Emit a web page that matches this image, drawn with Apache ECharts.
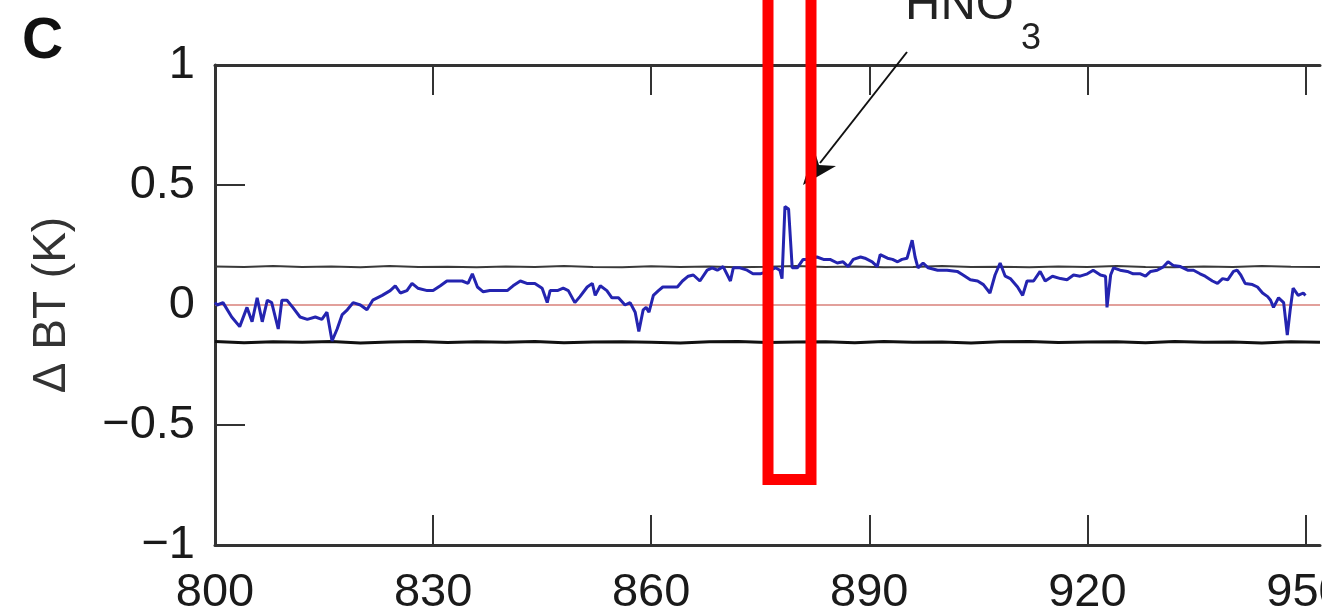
<!DOCTYPE html>
<html>
<head>
<meta charset="utf-8">
<script src="https://cdn.jsdelivr.net/npm/echarts@6/dist/echarts.min.js"></script>
<style>
html,body{margin:0;padding:0;background:#fff;}
#chart{width:1322px;height:616px;}
</style>
</head>
<body>
<div id="chart"></div>
<script>
// ---- data ----
const xTicks = [800, 830, 860, 890, 920, 950];
const yTicks = [-1, -0.5, 0, 0.5, 1];

const wavenumber = [
  800.0, 800.3, 801.1, 802.3, 803.4, 804.4, 805.1, 805.8, 806.5, 807.2,
  807.8, 808.7, 809.2, 809.9, 810.7, 811.7, 812.7, 813.8, 814.7, 815.4,
  816.1, 816.8, 817.5, 818.2, 819.0, 820.0, 820.9, 821.7, 823.0, 824.1,
  824.8, 825.5, 826.4, 827.1, 827.9, 829.2, 830.0, 831.0, 831.9, 832.8,
  834.0, 834.8, 835.4, 836.1, 836.9, 837.8, 839.2, 840.2, 841.0, 842.0,
  842.9, 844.0, 845.0, 845.7, 846.1, 847.1, 847.9, 848.6, 849.5, 850.2,
  851.2, 851.9, 852.3, 853.0, 853.9, 854.6, 855.5, 856.4, 857.1, 857.8,
  858.3, 858.9, 859.3, 859.7, 860.3, 861.0, 861.6, 862.6, 863.6, 864.3,
  865.1, 865.8, 866.7, 867.7, 868.4, 869.1, 869.9, 870.9, 871.3, 872.2,
  873.2, 874.0, 875.0, 876.0, 877.1, 877.7, 878.0, 878.4, 878.9, 879.4,
  880.1, 880.9, 881.9, 882.8, 883.7, 884.6, 885.6, 886.4, 887.1, 887.8,
  888.8, 889.4, 890.4, 891.1, 891.5, 892.5, 893.2, 893.9, 894.5, 895.2,
  895.9, 896.3, 896.7, 897.4, 898.1, 899.4, 900.7, 902.1, 902.9, 903.9,
  904.9, 905.7, 906.6, 907.3, 908.0, 908.7, 909.4, 910.4, 911.1, 911.7,
  912.6, 913.5, 914.2, 915.2, 916.3, 917.2, 918.1, 919.0, 920.0, 920.8,
  921.8, 922.5, 922.7, 923.2, 923.6, 924.5, 925.5, 926.3, 927.3, 928.0,
  928.7, 929.6, 930.5, 931.1, 931.8, 932.8, 933.8, 934.6, 935.5, 936.2,
  937.2, 937.9, 938.6, 939.3, 940.1, 940.6, 941.1, 941.7, 942.7, 943.4,
  944.1, 944.8, 945.2, 945.6, 946.3, 947.0, 947.5, 947.9, 948.3, 949.0,
  949.7, 950.0
];
const deltaBT = [
  0.01, 0.0, 0.01, -0.05, -0.09, -0.01, -0.07, 0.03, -0.07, 0.02,
  0.01, -0.10, 0.02, 0.02, -0.01, -0.05, -0.06, -0.05, -0.06, -0.03,
  -0.15, -0.10, -0.04, -0.02, 0.01, 0.0, -0.02, 0.02, 0.04, 0.06,
  0.08, 0.05, 0.06, 0.09, 0.07, 0.06, 0.06, 0.08, 0.10, 0.10,
  0.10, 0.09, 0.13, 0.075, 0.055, 0.06, 0.06, 0.06, 0.08, 0.10,
  0.09, 0.09, 0.07, 0.01, 0.06, 0.06, 0.07, 0.06, 0.01, 0.035,
  0.075, 0.09, 0.04, 0.08, 0.06, 0.03, 0.03, 0.0, 0.01, -0.03,
  -0.11, -0.02, -0.01, -0.03, 0.04, 0.06, 0.075, 0.075, 0.075, 0.10,
  0.12, 0.125, 0.10, 0.145, 0.155, 0.145, 0.16, 0.10, 0.155, 0.155,
  0.145, 0.13, 0.13, 0.14, 0.155, 0.145, 0.11, 0.41, 0.40, 0.155,
  0.155, 0.19, 0.19, 0.20, 0.19, 0.19, 0.175, 0.18, 0.16, 0.19,
  0.20, 0.195, 0.18, 0.16, 0.21, 0.195, 0.19, 0.18, 0.19, 0.195,
  0.27, 0.20, 0.155, 0.175, 0.155, 0.145, 0.145, 0.14, 0.125, 0.105,
  0.10, 0.085, 0.05, 0.125, 0.175, 0.12, 0.11, 0.075, 0.04, 0.10,
  0.10, 0.14, 0.10, 0.12, 0.11, 0.105, 0.125, 0.12, 0.13, 0.145,
  0.125, 0.12, -0.01, 0.125, 0.155, 0.145, 0.14, 0.13, 0.13, 0.12,
  0.14, 0.145, 0.16, 0.18, 0.165, 0.16, 0.145, 0.145, 0.13, 0.12,
  0.10, 0.09, 0.11, 0.105, 0.14, 0.145, 0.125, 0.09, 0.085, 0.075,
  0.05, 0.035, 0.02, -0.01, 0.03, 0.01, -0.125, -0.02, 0.07, 0.04,
  0.05, 0.04
];

const noiseX = [
  800, 804, 808, 812, 816, 820, 824, 828, 832, 836,
  840, 844, 848, 852, 856, 860, 864, 868, 872, 876,
  880, 884, 888, 892, 896, 900, 904, 908, 912, 916,
  920, 924, 928, 932, 936, 940, 944, 948, 952
];
const noiseUpper = [
  0.160, 0.158, 0.163, 0.158, 0.160, 0.157, 0.163, 0.158, 0.159, 0.157,
  0.160, 0.158, 0.162, 0.158, 0.157, 0.161, 0.158, 0.160, 0.157, 0.159,
  0.163, 0.158, 0.160, 0.157, 0.158, 0.162, 0.158, 0.159, 0.157, 0.160,
  0.158, 0.163, 0.158, 0.157, 0.160, 0.158, 0.162, 0.159, 0.158
];
const noiseLower = [
  -0.152, -0.157, -0.153, -0.155, -0.152, -0.158, -0.154, -0.152, -0.156, -0.153,
  -0.155, -0.152, -0.157, -0.154, -0.153, -0.155, -0.158, -0.153, -0.152, -0.156,
  -0.154, -0.153, -0.157, -0.152, -0.155, -0.154, -0.158, -0.153, -0.152, -0.156,
  -0.154, -0.153, -0.157, -0.152, -0.155, -0.154, -0.158, -0.153, -0.155
];
const zeroX = [800, 952];
const zeroY = [0, 0];

// ---- chart ----
const FONT = 'Liberation Sans, Arial, Helvetica, sans-serif';
const zip = (a, b) => a.map((v, i) => [v, b[i]]);
const chart = echarts.init(document.getElementById('chart'), null, {renderer: 'canvas'});

const axisLine = {show: true, onZero: false, lineStyle: {color: '#333', width: 3}};
const tickStyle = {color: '#333', width: 2};

const option = {
  animation: false,
  backgroundColor: '#fff',
  grid: {left: 215, right: 2, top: 65, bottom: 71, containLabel: false, outerBoundsMode: 'none'},
  xAxis: [
    {
      type: 'value', min: 800, max: 952, interval: 10, position: 'bottom',
      axisLine: axisLine,
      axisTick: {show: true, inside: true, length: 30, lineStyle: tickStyle, customValues: xTicks},
      axisLabel: {show: true, customValues: xTicks, fontSize: 47, color: '#1a1a1a', fontFamily: FONT, margin: 25, showMaxLabel: true, hideOverlap: false},
      splitLine: {show: false}
    },
    {
      type: 'value', min: 800, max: 952, interval: 10, position: 'top',
      axisLine: axisLine,
      axisTick: {show: true, inside: true, length: 30, lineStyle: tickStyle, customValues: xTicks},
      axisLabel: {show: false},
      splitLine: {show: false}
    }
  ],
  yAxis: [
    {
      type: 'value', min: -1, max: 1, interval: 0.5,
      axisLine: axisLine,
      axisTick: {show: true, inside: true, length: 30, lineStyle: tickStyle, customValues: [-0.5, 0.5]},
      axisLabel: {
        fontSize: 47, color: '#1a1a1a', fontFamily: FONT, margin: 20,
        formatter: v => String(v).replace('-', '\u2212')
      },
      splitLine: {show: false},
      name: 'Δ BT (K)', nameLocation: 'middle', nameGap: 140,
      nameTextStyle: {fontSize: 46, color: '#333', fontFamily: FONT}
    }
  ],
  series: [
    {
      type: 'line', data: zip(noiseX, noiseUpper),
      showSymbol: false, lineStyle: {color: '#3a3a3a', width: 2}, z: 2, silent: true
    },
    {
      type: 'line', data: zip(noiseX, noiseLower),
      showSymbol: false, lineStyle: {color: '#111', width: 3}, z: 2, silent: true
    },
    {
      type: 'line', data: zip(zeroX, zeroY),
      showSymbol: false, lineStyle: {color: '#d9807a', width: 1.5}, z: 3, silent: true
    },
    {
      type: 'line', data: zip(wavenumber, deltaBT),
      showSymbol: false, lineStyle: {color: '#2424b0', width: 3}, z: 4, silent: true
    }
  ],
  graphic: [
    {type: 'text', left: 22, top: 14, z: 100,
     style: {text: 'C', font: 'bold 57px ' + FONT, fill: '#111'}},
    {type: 'text', x: 905, y: 30, z: 100,
     style: {text: 'HNO', font: '49px ' + FONT, fill: '#222', textVerticalAlign: 'bottom'}},
    {type: 'text', x: 1021, y: 57, z: 100,
     style: {text: '3', font: '36px ' + FONT, fill: '#222', textVerticalAlign: 'bottom'}},
    {type: 'line', z: 100,
     shape: {x1: 907, y1: 52, x2: 820, y2: 163},
     style: {stroke: '#111', lineWidth: 2}},
    {type: 'polygon', z: 100,
     shape: {points: [[803, 185], [814, 149], [819, 165], [836, 166]]},
     style: {fill: '#111'}},
    {type: 'rect', z: 101,
     shape: {x: 768, y: -20, width: 43, height: 499.5},
     style: {fill: 'none', stroke: '#ff0000', lineWidth: 11}}
  ]
};
chart.setOption(option);
</script>
</body>
</html>
